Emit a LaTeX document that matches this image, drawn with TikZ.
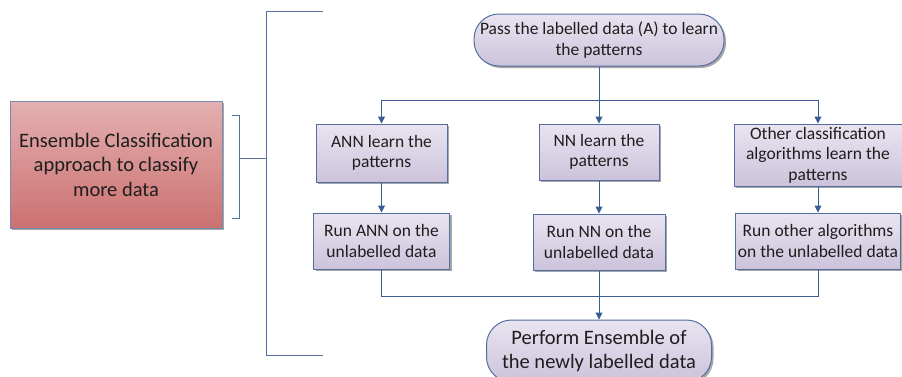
\documentclass[tikz,border=0pt]{standalone}
\usepackage{fontspec}
\setmainfont{Carlito}
\usepackage{tikz}
\usetikzlibrary{positioning, shadows, arrows.meta}

\definecolor{lineblue}{RGB}{58,94,146}
\definecolor{frameblue}{RGB}{84,110,160}
\definecolor{lavtop}{RGB}{233,228,240}
\definecolor{lavbot}{RGB}{204,195,219}
\definecolor{redtop}{RGB}{228,176,176}
\definecolor{redbot}{RGB}{204,112,112}
\definecolor{inkgray}{RGB}{30,30,30}

\begin{document}
\begin{tikzpicture}[x=1pt, y=-1pt, line width=1pt, >={Triangle[length=7pt,width=7pt]},
	box/.style={draw=frameblue, top color=lavtop, bottom color=lavbot, text=inkgray,
		align=center, inner sep=2pt, font=\fontsize{17.5}{20.5}\selectfont,
		drop shadow={shadow xshift=2pt, shadow yshift=-2pt, opacity=0.35, fill=black}},
	pill/.style={box, rounded corners=25pt},
	mainbox/.style={box, draw=frameblue!80, top color=redtop, bottom color=redbot,
		font=\fontsize{20.5}{24.5}\selectfont},
	link/.style={draw=lineblue}]
	\useasboundingbox (0,0) rectangle (902,376);

	\node[mainbox, minimum width=212pt, minimum height=127pt] (src) at (116,164.5)
		{Ensemble Classification\\approach to classify\\more data};

	\node[pill, minimum width=250pt, minimum height=52pt] (pass) at (599,40)
		{Pass the labelled data (A) to learn\\the patterns};
	\node[box, minimum width=120pt, minimum height=56pt, below=57pt of pass] (nn)
		{NN learn the\\patterns};
	\node[box, minimum width=131pt, minimum height=58pt, left=91pt of nn.north west, anchor=north east] (ann)
		{ANN learn the\\patterns};
	\node[box, minimum width=168pt, minimum height=62pt, right=74pt of nn.north east, anchor=north west] (oth)
		{Other classification\\algorithms learn the\\patterns};

	\node[box, minimum width=132pt, minimum height=56pt, below=33pt of nn] (runnn)
		{Run NN on the\\unlabelled data};
	\node[box, minimum width=136pt, minimum height=56pt, below=30pt of ann] (runann)
		{Run ANN on the\\unlabelled data};
	\node[box, minimum width=164pt, minimum height=56pt, below=26pt of oth] (runoth)
		{Run other algorithms\\on the unlabelled data};

	\node[pill, minimum width=225pt, minimum height=62pt, below=49pt of runnn,
		font=\fontsize{20.5}{24.5}\selectfont] (ens)
		{Perform Ensemble of\\the newly labelled data};

	% fork and join
	\coordinate[below=34pt of pass] (fork);
	\coordinate[below=26pt of runnn] (join);

	\draw[link] (pass) -- (fork);
	\draw[link, ->] (fork) -| (ann);
	\draw[link, ->] (fork) -- (nn);
	\draw[link, ->] (fork) -| (oth);
	\draw[link, ->] (ann) -- (runann);
	\draw[link, ->] (nn) -- (runnn);
	\draw[link, ->] (oth) -- (runoth);
	\draw[link] (runann) |- (join);
	\draw[link] (runoth) |- (join);
	\draw[link] (runnn) -- (join);
	\draw[link, ->] (join) -- (ens);

	% brackets
	\draw[link, draw=frameblue] (232,115) -- (239,115) -- (239,218) -- (232,218);
	\draw[link, draw=frameblue] (239,158) -- (266,158);
	\draw[link, draw=frameblue] (323,11) -- (266,11) -- (266,355) -- (323,355);
\end{tikzpicture}
\end{document}
